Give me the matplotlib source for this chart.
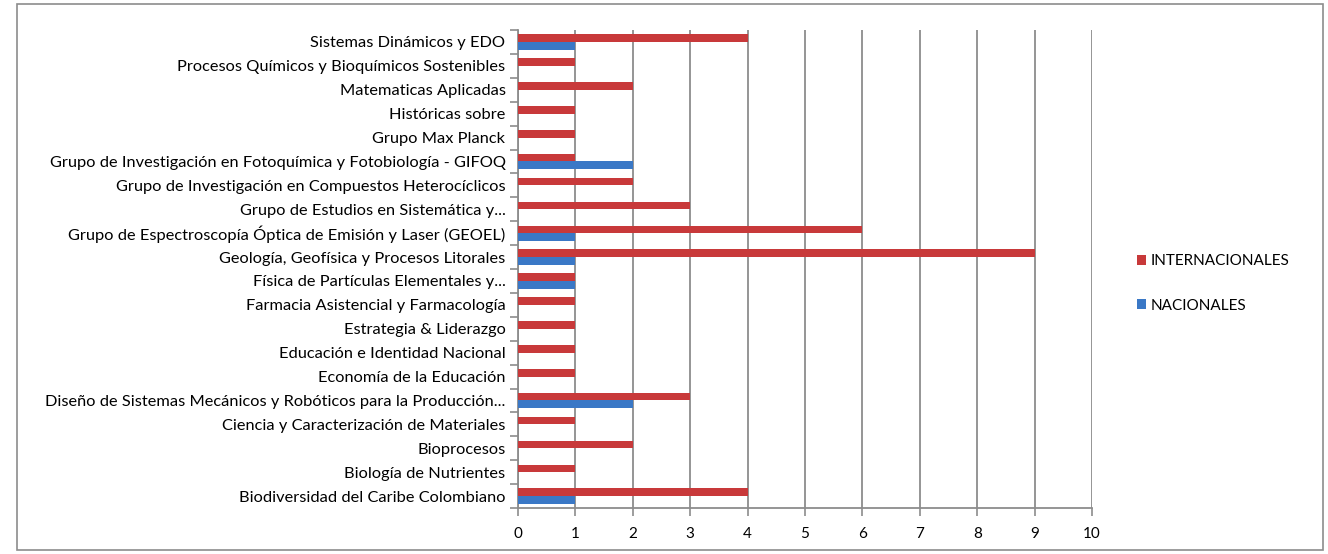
import numpy as np
import matplotlib.pyplot as plt
from matplotlib.patches import Rectangle

plt.rcParams['font.family'] = ['Lato', 'DejaVu Sans']

# categories from bottom to top
grupos = [
    "Biodiversidad del Caribe Colombiano",
    "Biología de Nutrientes",
    "Bioprocesos",
    "Ciencia y Caracterización de Materiales",
    "Diseño de Sistemas Mecánicos y Robóticos para la Producción...",
    "Economía de la Educación",
    "Educación e Identidad Nacional",
    "Estrategia & Liderazgo",
    "Farmacia Asistencial y Farmacología",
    "Física de Partículas Elementales y...",
    "Geología, Geofísica y Procesos Litorales",
    "Grupo de Espectroscopía Óptica de Emisión y Laser (GEOEL)",
    "Grupo de Estudios en Sistemática y...",
    "Grupo de Investigación en Compuestos Heterocíclicos",
    "Grupo de Investigación en Fotoquímica y Fotobiología - GIFOQ",
    "Grupo Max Planck",
    "Históricas sobre",
    "Matematicas Aplicadas",
    "Procesos Químicos y Bioquímicos Sostenibles",
    "Sistemas Dinámicos y EDO",
]
internacionales = [4, 1, 2, 1, 3, 1, 1, 1, 1, 1, 9, 6, 3, 2, 1, 1, 1, 2, 1, 4]
nacionales = [1, 0, 0, 0, 2, 0, 0, 0, 0, 1, 1, 1, 0, 0, 2, 0, 0, 0, 0, 1]

rojo = '#C8393A'
azul = '#3A78C6'
gris = '#8C8C8C'

fig = plt.figure(figsize=(13.28, 5.54), dpi=100)
fig.patches.append(Rectangle((17/1328, 4/554), 1306/1328, 546/554,
                             transform=fig.transFigure, fill=False,
                             edgecolor=gris, linewidth=1.2))

ax = fig.add_axes([518/1328, 46/554, 574/1328, 478/554])

y = np.arange(len(grupos))
h = 0.32
ax.barh(y + h/2, internacionales, height=h, color=rojo, label='INTERNACIONALES', zorder=3)
ax.barh(y - h/2, nacionales, height=h, color=azul, label='NACIONALES', zorder=3)

ax.set_xlim(0, 10)
ax.set_ylim(-0.5, len(grupos) - 0.5)
ax.set_xticks(range(0, 11))
ax.set_yticks(y)
ax.set_yticklabels(grupos, fontsize=11.8)
ax.set_yticks(np.arange(-0.5, len(grupos)), minor=True)

ax.tick_params(axis='y', which='major', length=0, pad=9)
ax.tick_params(axis='y', which='minor', length=6, color=gris, width=1.2)
ax.tick_params(axis='x', length=6, color=gris, width=1.2, pad=8, labelsize=11)

ax.grid(axis='x', color=gris, linewidth=1.3, zorder=0)
for s in ['top', 'right']:
    ax.spines[s].set_visible(False)
for s in ['left', 'bottom']:
    ax.spines[s].set_color(gris)
    ax.spines[s].set_linewidth(1.3)

ax.legend(loc='center left', bbox_to_anchor=(1.055, 0.47), frameon=False,
          fontsize=11, handlelength=0.6, handleheight=0.6, handletextpad=0.3,
          labelspacing=2.0)

fig.savefig('out.png', dpi=100)
